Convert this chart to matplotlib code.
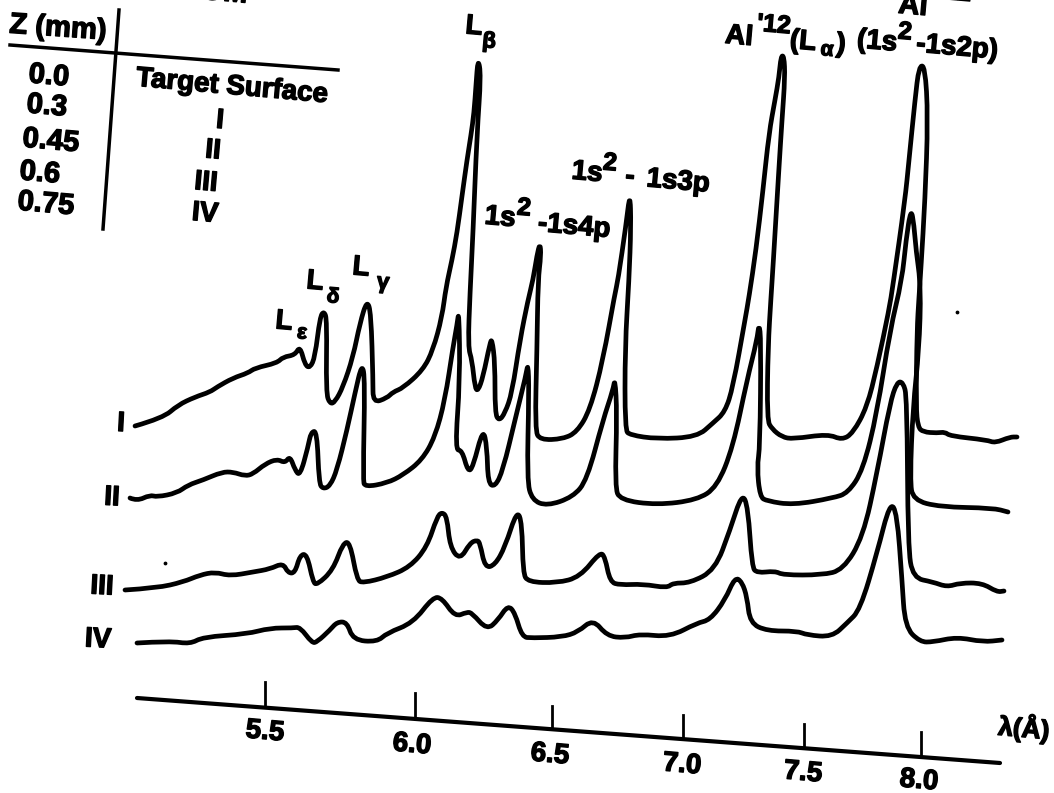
import matplotlib
matplotlib.use("Agg")
import matplotlib.pyplot as plt
import matplotlib.patheffects as pe
from matplotlib.patches import PathPatch
from matplotlib.path import Path

# traces (scan is slightly rotated so everything is in image units)
trace1_x = [135,163,178,195,210,217,233,248,255,277,283,295,300,305,310,315,320,324,327,326,330,335,343,353,360,367,371,373,373,387,393,403,423,433,442,446,452,457,462,467,471,474,476,478,481,477,473,470,468,472,475,478,483,490,492,495,495,499,505,512,520,528,533,537,540,541,538,537,535,540,563,577,590,603,615,618,626,630,631,629,625,625,630,657,697,713,725,733,745,749,756,763,769,775,779,781,784,785,782,779,773,771,768,767,772,782,793,828,842,853,867,877,889,893,905,909,915,919,925,928,925,921,919,917,916,918,923,937,945,950,987,995,1010,1017]
trace1_y = [426,418,405,397,392,387,378,373,368,363,357,355,346,365,368,357,317,311,320,393,404,402,387,357,323,300,313,380,403,398,392,388,370,350,317,287,260,233,196,160,135,113,85,58,75,133,233,293,347,360,388,391,377,343,339,363,413,421,413,393,340,300,280,255,243,255,280,347,430,440,439,432,410,360,293,280,225,192,225,280,347,430,435,439,437,423,412,387,320,297,250,190,133,100,77,56,56,77,120,167,267,297,347,420,429,437,439,434,440,433,407,367,310,285,200,160,100,66,66,117,200,267,297,330,407,427,432,433,432,436,440,443,437,437]

trace2_x = [130,137,150,157,177,188,203,222,233,245,253,265,277,285,290,295,300,308,311,317,319,323,330,337,347,355,362,365,363,365,387,403,422,435,445,453,457,459,460,455,462,468,473,483,487,488,495,503,515,526,528,529,527,532,547,573,587,603,613,615,617,615,620,657,697,717,733,747,757,759,761,760,757,760,767,793,833,848,863,877,890,902,906,911,914,916,921,919,913,910,913,940,993,1008]
trace2_y = [498,501,495,497,493,485,480,472,472,476,474,464,459,463,456,470,476,447,432,431,483,489,486,470,430,393,363,380,480,487,483,475,460,437,400,347,325,310,380,450,450,472,467,428,447,483,487,470,420,375,363,390,480,500,506,497,480,420,390,378,413,487,500,505,500,487,447,380,340,323,340,447,467,497,501,505,498,493,470,413,330,280,240,208,225,250,287,350,407,480,500,507,508,512]

trace3_x = [125,157,183,200,215,230,253,270,283,288,295,300,307,313,317,333,343,350,357,363,387,410,427,437,442,447,450,460,470,477,480,485,495,505,517,522,523,528,557,580,600,605,610,620,643,667,673,690,715,730,742,748,752,757,775,783,822,843,863,877,890,897,903,907,908,913,933,947,960,982,997,1004]
trace3_y = [590,588,582,575,572,576,572,569,563,573,573,555,554,582,585,570,543,542,580,583,577,567,547,517,512,517,547,560,543,540,543,568,565,547,510,523,573,582,583,577,552,557,582,585,584,588,583,583,570,530,493,507,567,573,571,575,575,570,537,473,403,382,382,397,547,578,582,587,583,583,592,591]

trace4_x = [137,170,190,203,247,270,293,300,312,317,330,337,347,353,377,387,413,433,442,455,467,472,487,498,508,515,522,532,562,578,593,607,625,640,670,697,710,725,735,742,747,750,767,797,807,832,847,860,877,890,897,902,905,920,933,957,983,1002]
trace4_y = [643,641,644,637,634,628,628,627,643,642,630,622,622,640,642,633,623,597,598,617,612,613,630,620,605,613,637,638,637,632,619,636,638,634,637,623,620,600,577,582,597,623,631,631,635,637,623,610,553,502,513,580,627,642,642,637,642,640]

speck_x = [165, 957]
speck_y = [563, 312]

axis_x = [137, 1000]
axis_y = [698, 763]
tick_x = [265, 415, 552, 683, 804, 921]
tick_top = [682, 693, 706, 715, 724, 732]
tick_bottom = [707, 718, 728, 738, 748, 757]
tick_labels = ["5.5", "6.0", "6.5", "7.0", "7.5", "8.0"]
tick_label_x = [265, 412, 550, 682, 803, 919]
tick_label_y = [732, 745, 755, 765, 773, 781]

trace_names = ["I", "II", "III", "IV"]
name_x = [121, 112, 102, 98]
name_y = [424, 498, 587, 640]

z_values = ["0.0", "0.3", "0.45", "0.6", "0.75"]
z_x = [49, 47, 51, 40, 46]
z_y = [76, 106, 141, 173, 204]
surface_names = ["Target Surface", "I", "II", "III", "IV"]
surface_x = [232, 220, 213, 206, 205]
surface_y = [87, 121, 151, 183, 214]

plt.rcParams["font.family"] = ["Liberation Sans", "DejaVu Sans"]
plt.rcParams["font.weight"] = "bold"

fig = plt.figure(figsize=(10.54, 7.93), dpi=100)
ax = fig.add_axes([0, 0, 1, 1])
ax.set_xlim(0, 1054)
ax.set_ylim(793, 0)
ax.axis("off")

heavy = [pe.withStroke(linewidth=1.0, foreground="black")]


def label(x, y, s, size=20, rot=-5):
    ax.text(x, y, s, fontsize=size, rotation=rot, rotation_mode="anchor",
            ha="center", va="center", color="black", path_effects=heavy)


def trace(xs, ys):
    # pen traces are smooth, so use the read points as quadratic control points
    pts = list(zip(xs, ys))
    verts = [pts[0]]
    codes = [Path.MOVETO]
    for i in range(1, len(pts) - 1):
        mid = ((pts[i][0] + pts[i + 1][0]) / 2, (pts[i][1] + pts[i + 1][1]) / 2)
        verts += [pts[i], mid]
        codes += [Path.CURVE3, Path.CURVE3]
    verts.append(pts[-1])
    codes.append(Path.LINETO)
    ax.add_patch(PathPatch(Path(verts, codes), fill=False, edgecolor="black", lw=3.4,
                           joinstyle="round", capstyle="round"))


trace(trace1_x, trace1_y)
trace(trace2_x, trace2_y)
trace(trace3_x, trace3_y)
trace(trace4_x, trace4_y)
ax.scatter(speck_x, speck_y, s=3, color="black")

# wavelength axis
ax.plot(axis_x, axis_y, color="black", lw=3, solid_capstyle="round")
for i in range(len(tick_x)):
    ax.plot([tick_x[i], tick_x[i]], [tick_top[i], tick_bottom[i]], color="black", lw=2)
    label(tick_label_x[i], tick_label_y[i], tick_labels[i], size=20)
label(1024, 728, "λ(Å)", size=19)

for i in range(len(trace_names)):
    label(name_x[i], name_y[i], trace_names[i], rot=-3)

# table in the corner
ax.plot([119, 103], [10, 229], color="black", lw=2.5)
ax.plot([10, 338], [45, 70], color="black", lw=2.5)
label(58, 28, "Z (mm)", size=21, rot=-4)
for i in range(len(z_values)):
    label(z_x[i], z_y[i], z_values[i], size=21)
for i in range(len(surface_names)):
    label(surface_x[i], surface_y[i], surface_names[i], size=20)

# line labels
label(474, 27, "L", size=20)
label(489, 42, "β", size=16)
label(284, 322, "L", size=20)
label(302, 333, "ε", size=15)
label(315, 282, "L", size=20)
label(333, 297, "δ", size=15)
label(361, 268, "L", size=20)
label(383, 283, "γ", size=16)
label(739, 37, "Al", size=20)
label(774, 25, "'12", size=18)
label(803, 42, "(L", size=20)
label(827, 50, "α", size=15)
label(841, 45, ")", size=20)
label(877, 42, "(1s", size=20)
label(905, 32, "2", size=18)
label(957, 48, "-1s2p)", size=20)
label(587, 173, "1s", size=20)
label(610, 163, "2", size=18)
label(630, 177, "-", size=20)
label(678, 182, "1s3p", size=20)
label(500, 218, "1s", size=20)
label(524, 208, "2", size=18)
label(574, 227, "-1s4p", size=20)
# lines cut by the top edge of the scan
label(913, 6, "Al", size=21)
label(958, -7, "11", size=18)
label(205, -9, "FROM", size=21)

fig.savefig("out.png", dpi=100)
